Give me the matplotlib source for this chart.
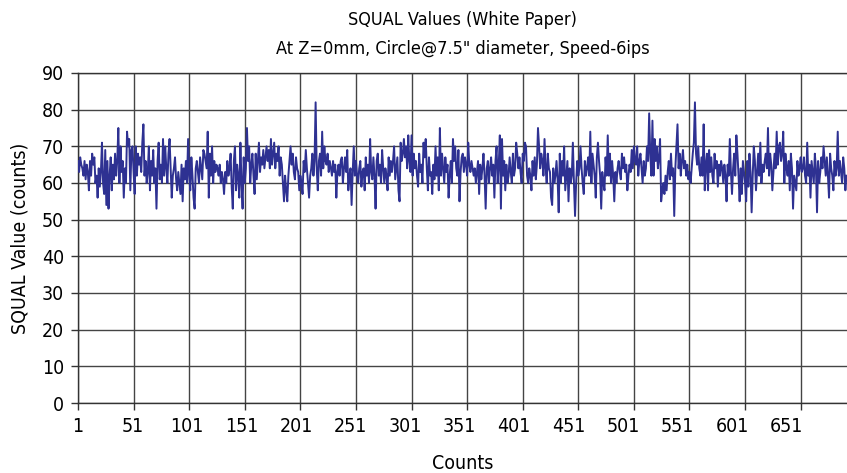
import matplotlib
matplotlib.use("Agg")
import matplotlib.pyplot as plt
from matplotlib import font_manager as fm
import numpy as np

# look for a condensed sans face, the reference uses a narrow font
font_family = 'DejaVu Sans'
font_stretch = 'normal'
for fam in ['Roboto', 'Noto Sans', 'Open Sans', 'DejaVu Sans', 'Liberation Sans Narrow']:
    found = [f for f in fm.fontManager.ttflist
             if f.name == fam and f.style == 'normal' and f.weight in (400, 'normal', 'regular')
             and (str(f.stretch) in ('condensed', 'semi-condensed') or 'Narrow' in fam)]
    if found:
        font_family = fam
        font_stretch = str(found[0].stretch)
        break

plt.rcParams['font.family'] = [font_family, 'DejaVu Sans']
plt.rcParams['font.stretch'] = font_stretch

# SQUAL readings in runs of about 64 counts
seg1 = [66, 63, 67, 65, 64, 62, 66, 61, 65, 63, 58, 66, 62, 68, 65, 67, 60, 62, 56, 64,
        59, 63, 71, 60, 57, 69, 54, 66, 53, 62, 67, 58, 65, 61, 68, 62, 66, 75, 60, 70,
        63, 66, 56, 64, 60, 74, 70, 72, 58, 69, 70, 63, 57, 70, 62, 68, 65, 67, 63, 71,
        76, 62, 66, 60]
seg2 = [63, 70, 58, 66, 62, 69, 60, 64, 53, 66, 71, 61, 65, 60, 72, 62, 70, 64, 60, 68,
        72, 64, 56, 62, 64, 67, 61, 58, 63, 60, 57, 65, 55, 64, 61, 66, 60, 72, 62, 58,
        67, 62, 56, 53, 64, 66, 63, 60, 67, 64, 61, 69, 68, 66, 64, 74, 56, 68, 62, 70,
        60, 66, 63, 65]
seg3 = [64, 62, 65, 60, 63, 61, 57, 63, 60, 66, 62, 64, 68, 59, 53, 66, 70, 58, 65, 62,
        56, 71, 60, 53, 67, 60, 64, 75, 66, 70, 60, 65, 68, 62, 57, 68, 61, 66, 71, 63,
        67, 65, 69, 64, 67, 70, 66, 69, 64, 72, 65, 68, 71, 64, 68, 66, 70, 62, 67, 65,
        60, 55, 62, 58]
seg4 = [55, 62, 66, 70, 65, 68, 63, 61, 67, 64, 63, 58, 62, 60, 57, 66, 63, 69, 64, 60,
        56, 62, 64, 68, 62, 66, 82, 64, 58, 66, 68, 62, 74, 64, 70, 66, 65, 68, 63, 66,
        64, 62, 66, 63, 65, 56, 63, 65, 62, 66, 67, 60, 64, 67, 63, 69, 58, 62, 64, 54,
        63, 70, 62, 66]
seg5 = [62, 60, 64, 66, 59, 63, 64, 58, 67, 62, 65, 60, 72, 63, 61, 67, 62, 53, 66, 68,
        62, 65, 60, 69, 64, 60, 64, 62, 58, 67, 62, 66, 63, 66, 70, 61, 64, 67, 58, 55,
        71, 66, 68, 72, 67, 70, 64, 73, 66, 63, 73, 62, 68, 64, 66, 62, 59, 68, 63, 65,
        60, 71, 67, 72]
seg6 = [64, 58, 67, 62, 63, 57, 65, 61, 70, 62, 67, 58, 75, 62, 68, 64, 60, 67, 63, 65,
        56, 62, 66, 60, 72, 66, 70, 64, 62, 69, 55, 63, 67, 68, 63, 67, 65, 62, 71, 65,
        63, 66, 64, 62, 64, 60, 63, 66, 57, 65, 61, 64, 68, 62, 53, 64, 66, 60, 64, 67,
        62, 65, 56, 66]
seg7 = [70, 60, 65, 73, 53, 72, 62, 66, 58, 65, 60, 62, 67, 63, 60, 68, 62, 64, 71, 68,
        64, 67, 63, 60, 68, 66, 71, 70, 62, 60, 64, 62, 58, 66, 62, 67, 61, 65, 75, 70,
        64, 68, 66, 62, 72, 64, 60, 68, 64, 63, 56, 54, 64, 60, 62, 66, 61, 52, 68, 60,
        66, 62, 70, 58]
seg8 = [62, 66, 55, 64, 60, 62, 71, 60, 51, 60, 66, 62, 64, 70, 64, 60, 57, 66, 62, 64,
        67, 62, 74, 60, 68, 65, 62, 56, 67, 71, 66, 62, 53, 63, 60, 58, 67, 62, 73, 62,
        68, 60, 66, 62, 55, 63, 60, 64, 66, 63, 61, 68, 64, 67, 63, 65, 58, 62, 65, 63,
        69, 64, 70, 66]
seg9 = [65, 70, 62, 66, 68, 64, 60, 66, 62, 64, 70, 66, 79, 68, 62, 77, 62, 72, 66, 70,
        64, 67, 72, 55, 58, 60, 57, 62, 58, 63, 66, 61, 68, 62, 64, 51, 64, 70, 76, 64,
        68, 62, 66, 69, 64, 66, 62, 65, 61, 63, 60, 64, 68, 71, 82, 68, 65, 70, 64, 62,
        67, 62, 76, 58, 65]
seg10 = [68, 58, 69, 63, 67, 62, 60, 68, 64, 66, 59, 65, 62, 66, 64, 60, 65, 62, 55, 65,
         62, 72, 63, 57, 64, 68, 62, 73, 68, 62, 55, 64, 57, 66, 63, 60, 55, 66, 59, 68,
         63, 52, 62, 70, 66, 58, 63, 68, 62, 71, 60, 65, 63, 66, 68, 64, 75, 62, 68, 65,
         58, 63, 68, 64]
seg11 = [74, 65, 70, 71, 66, 68, 74, 60, 68, 64, 62, 66, 58, 68, 64, 53, 62, 60, 58, 66,
         62, 64, 67, 63, 64, 67, 62, 60, 71, 62, 65, 56, 66, 63, 60, 68, 64, 52, 66, 60,
         63, 67, 64, 70, 66, 62, 67, 62, 56, 68, 64, 62, 58, 66, 62, 64, 74, 62, 66, 63,
         60, 67, 64, 58, 62]

squal = seg1 + seg2 + seg3 + seg4 + seg5 + seg6 + seg7 + seg8 + seg9 + seg10 + seg11
counts = np.arange(1, len(squal) + 1)

x_labels = [1, 51, 101, 151, 201, 251, 301, 351, 401, 451, 501, 551, 601, 651]
grid_x = [1 + 51 * k for k in range(14)]
y_ticks = list(range(0, 100, 10))

fig = plt.figure(figsize=(8.47, 4.73), dpi=100)
ax = fig.add_axes([78 / 847, 70 / 473, 769 / 847, 330 / 473])

ax.plot(counts, squal, color='#2e3192', linewidth=1.4, zorder=3)

ax.set_xlim(1, 706.5)
ax.set_ylim(0, 90)

ax.xaxis.remove_overlapping_locs = False
ax.set_yticks(y_ticks)
ax.set_xticks(grid_x)
ax.set_xticklabels([])
ax.set_xticks(x_labels, minor=True)
ax.set_xticklabels([str(v) for v in x_labels], minor=True)

ax.tick_params(axis='y', which='major', length=5, width=1, color='#333333',
               labelsize=14, pad=5)
ax.tick_params(axis='x', which='major', length=5, width=1, color='#333333')
ax.tick_params(axis='x', which='minor', length=0, labelsize=14, pad=10)

ax.grid(True, which='major', color='#444444', linewidth=1)
ax.set_axisbelow(True)

for side in ['left', 'bottom', 'top']:
    ax.spines[side].set_color('#333333')
    ax.spines[side].set_linewidth(1)
ax.spines['right'].set_visible(False)

ax.set_ylabel('SQUAL Value (counts)', fontsize=14, labelpad=9)
ax.set_xlabel('Counts', fontsize=14, labelpad=13)
ax.set_title('SQUAL Values (White Paper)\nAt Z=0mm, Circle@7.5" diameter, Speed-6ips',
             fontsize=13, pad=14, linespacing=1.75)

fig.savefig('out.png', dpi=100)
